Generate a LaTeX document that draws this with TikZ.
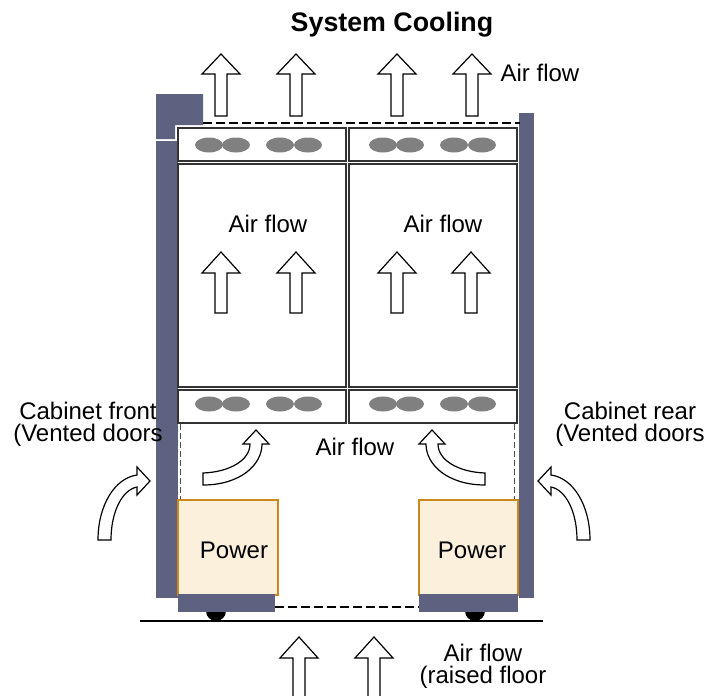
\documentclass[tikz,border=0pt]{standalone}
\usepackage{fontspec}
\setmainfont{Liberation Sans}
\definecolor{cabwall}{RGB}{94,98,128}
\definecolor{psufill}{RGB}{250,240,220}
\definecolor{psuline}{RGB}{204,136,28}
\begin{document}
\begin{tikzpicture}[x=0.5pt,y=-0.5pt,
  lbl/.style={font=\fontsize{12}{11}\selectfont,align=center,inner sep=0pt},
  wall/.style={fill=cabwall},
  tray/.style={draw=black!80,line width=0.6pt},
  fan/.style={fill=gray},
  flow/.style={draw=black,line width=0.6pt,fill=white,line join=miter},
  psu/.style={fill=psufill,draw=psuline,line width=0.6pt},
  hdash/.style={line width=1pt,dash pattern=on 4.5pt off 2pt},
  vdash/.style={line width=0.4pt,dash pattern=on 3pt off 1.5pt,draw=black!70}]
\useasboundingbox (0,0) rectangle (708,696);
\fill[wall] (156,94) -- (203,94) -- (203,125) -- (175,125) -- (175,139) -- (156,139) -- cycle;
\fill[wall] (156,141) rectangle (178,598);
\fill[wall] (519,113) rectangle (534,598);
\foreach \l/\r in {178/346,349/517} {
  \draw[tray] (\l,128) rectangle (\r,161);
  \draw[tray] (\l,164) rectangle (\r,387);
  \draw[tray] (\l,390) rectangle (\r,423);
}
\foreach \y in {145,404}
  \foreach \x in {209,236,280,308,383,410,454,482}
    \fill[fan] (\x,\y) ellipse [x radius=14, y radius=7.5];
\draw[hdash] (203,123) -- (520,123);
\draw[hdash] (275,607) -- (419,607);
\draw[vdash] (180,424) -- (180,500);
\draw[vdash] (514,424) -- (514,500);
\draw[psu] (178,500) rectangle (278,595);
\draw[psu] (419,500) rectangle (518,595);
\node[lbl] (pwrL) at (234,550) {Power};
\node[lbl] (pwrR) at (472,550) {Power};
\fill (216,611) circle [radius=10];
\fill (475,611) circle [radius=10];
\fill[wall] (178,594) rectangle (275,612);
\fill[wall] (419,594) rectangle (518,612);
\draw[line width=0.8pt] (140,621) -- (543,621);
\foreach \x in {221,296,397,472}
  \draw[flow] (\x-6,116) -- (\x-6,74) -- (\x-19,74) -- (\x,54) -- (\x+19,74) -- (\x+6,74) -- (\x+6,116) -- cycle;
\foreach \x in {221,296,397,471}
  \draw[flow] (\x-6,313) -- (\x-6,273) -- (\x-19,273) -- (\x,252) -- (\x+19,273) -- (\x+6,273) -- (\x+6,313) -- cycle;
\foreach \x in {299,374}
  \draw[flow] (\x-6,696) -- (\x-6,658) -- (\x-19,658) -- (\x,637) -- (\x+19,658) -- (\x+6,658) -- (\x+6,696);
\foreach \s/\o in {1/0,-1/344} {
  \begin{scope}[xshift=\o pt, xscale=\s]
    \draw[flow] (98,540) .. controls (98,505) and (115,478) .. (137,475) -- (137,467) -- (150,481) -- (137,495) -- (137,487) .. controls (122,490) and (111,512) .. (111,540) -- cycle;
    \draw[flow] (203,473) .. controls (230,472) and (250,460) .. (250,444) -- (243,444) -- (256,430) -- (269,444) -- (262,444) .. controls (262,465) and (240,485) .. (203,485) -- cycle;
  \end{scope}
}
\node[lbl,font=\fontsize{13.4}{14}\selectfont\bfseries] (title) at (392,25) {System Cooling};
\node[lbl] (flowTop) at (540,73) {Air flow};
\node[lbl] (flowL) at (268,224) {Air flow};
\node[lbl] (flowR) at (443,224) {Air flow};
\node[lbl] (flowMid) at (355,447) {Air flow};
\node[lbl] (front) at (88,424) {Cabinet front\\(Vented doors};
\node[lbl] (rear) at (630,424) {Cabinet rear\\(Vented doors};
\node[lbl] (flowFloor) at (483,666) {Air flow\\(raised floor};
\end{tikzpicture}
\end{document}
